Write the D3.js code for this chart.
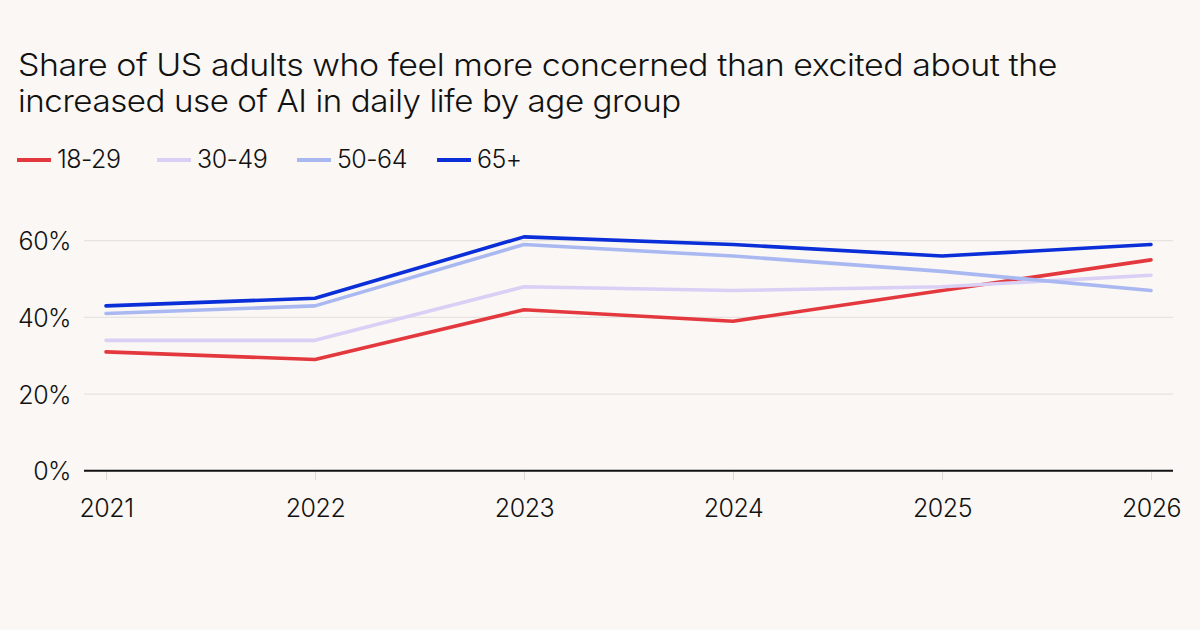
<!DOCTYPE html>
<html><head><meta charset="utf-8">
<script src="https://cdn.jsdelivr.net/npm/d3@7"></script>
<style>
html,body{margin:0;padding:0;background:#faf7f4;}
svg{display:block;font-family:Inter, "Liberation Sans", sans-serif;}
</style></head>
<body><svg id="c" width="1200" height="630"></svg>
<script>
const years = [2021, 2022, 2023, 2024, 2025, 2026];
const seriesNames = ["18-29", "30-49", "50-64", "65+"];
const s18_29 = [31, 29, 42, 39, 47, 55];
const s30_49 = [34, 34, 48, 47, 48, 51];
const s50_64 = [41, 43, 59, 56, 52, 47];
const s65 = [43, 45, 61, 59, 56, 59];
const yTicks = [0, 20, 40, 60];
const colors = ["#e3393e", "#d9d0f6", "#aab8f2", "#0a2ed8"];
const titleLines = ["Share of US adults who feel more concerned than excited about the",
                    "increased use of AI in daily life by age group"];

const allSeries = [s18_29, s30_49, s50_64, s65];
const svg = d3.select("#c");
svg.append("rect").attr("width",1200).attr("height",630).attr("fill","#faf7f4");

const FW = 350;
// title: widen glyphs horizontally to match the reference face
const t = svg.append("g");
const titleWidths = [1039, 663];
titleLines.forEach((l,i)=>{
  const tx = t.append("text").attr("font-size",31).attr("font-weight",FW).attr("fill","#111")
   .attr("letter-spacing","-0.4").text(l);
  const sx = titleWidths[i] / tx.node().getComputedTextLength();
  tx.attr("transform",`translate(18,${76+i*36}) scale(${sx},1)`);
});

// legend
const lg = svg.append("g");
const lx = [17, 157, 297, 437];
seriesNames.forEach((n,i)=>{
  lg.append("line").attr("x1",lx[i]).attr("x2",lx[i]+34).attr("y1",160).attr("y2",160)
    .attr("stroke",colors[i]).attr("stroke-width",4);
  lg.append("text").attr("x",lx[i]+40).attr("y",168).attr("font-size",25)
    .attr("font-weight",FW).attr("fill","#111").attr("letter-spacing","-0.5").text(n);
});

const x = d3.scalePoint().domain(years).range([106, 1151]);
const y = d3.scaleLinear().domain([0,60]).range([470.7, 240.7]);

// grid
svg.append("g").selectAll("line").data(yTicks.filter(d=>d>0)).join("line")
  .attr("x1",84).attr("x2",1173).attr("y1",d=>y(d)).attr("y2",d=>y(d))
  .attr("stroke","#e6e3e0").attr("stroke-width",1.2);

// y labels
const ya = svg.append("g").attr("transform","translate(71,0)")
  .call(d3.axisLeft(y).tickValues(yTicks).tickSize(0).tickPadding(0).tickFormat(d=>d+"%"));
ya.select(".domain").remove();
ya.selectAll("text").attr("font-size",25).attr("font-weight",FW).attr("fill","#111")
  .attr("font-family","Inter, sans-serif").attr("letter-spacing","-0.5").attr("dy","0.36em");

// x axis
const xa = svg.append("g").attr("transform","translate(0,471)")
  .call(d3.axisBottom(x).tickSize(9).tickPadding(19).tickFormat(d3.format("d")));
xa.select(".domain").remove();
xa.selectAll(".tick line").attr("stroke","#dcd9d6").attr("stroke-width",1);
xa.selectAll("text").attr("font-size",25).attr("font-weight",FW).attr("fill","#111")
  .attr("font-family","Inter, sans-serif").attr("letter-spacing","-0.5");

svg.append("line").attr("x1",84).attr("x2",1173).attr("y1",y(0)).attr("y2",y(0))
  .attr("stroke","#111").attr("stroke-width",2);

// lines
const line = d3.line().x((d,i)=>x(years[i])).y(d=>y(d));
allSeries.forEach((s,i)=>{
  svg.append("path").datum(s).attr("d",line).attr("fill","none")
    .attr("stroke",colors[i]).attr("stroke-width",3.6).attr("stroke-linejoin","round")
    .attr("stroke-linecap","round");
});
</script></body></html>
